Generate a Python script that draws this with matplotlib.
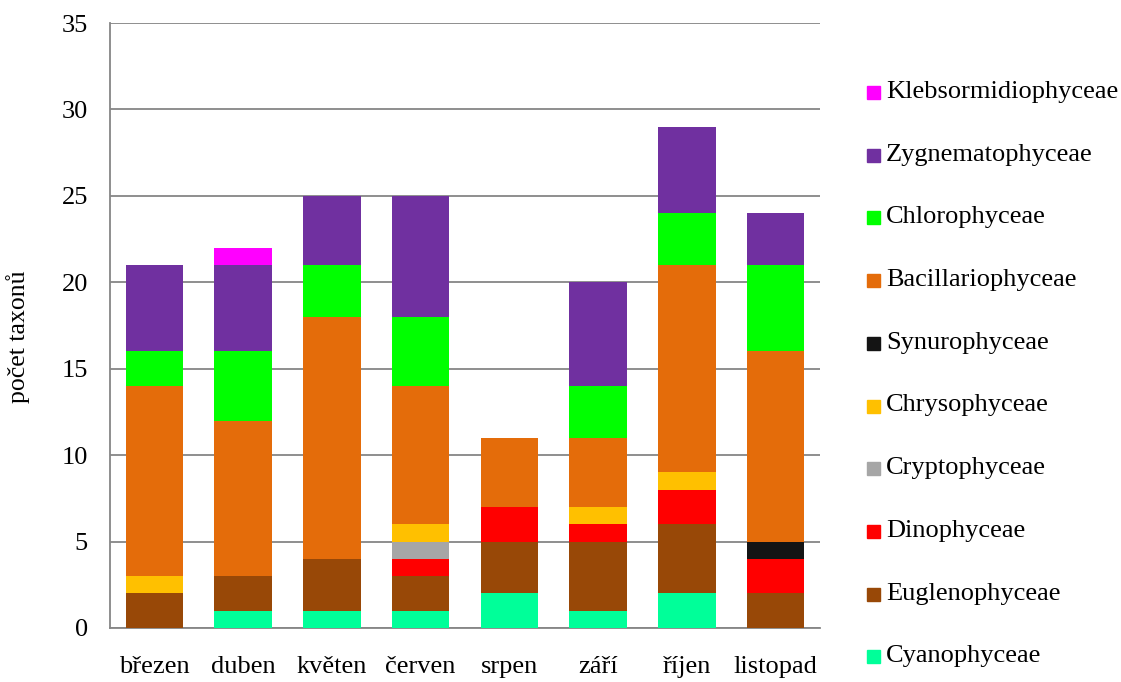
import matplotlib
matplotlib.use("Agg")
import matplotlib.pyplot as plt
import numpy as np
from matplotlib.patches import Rectangle

plt.rcParams["font.family"] = ["Liberation Serif", "DejaVu Serif"]

months = ["březen", "duben", "květen", "červen", "srpen", "září", "říjen", "listopad"]

cyanophyceae = [0, 1, 1, 1, 2, 1, 2, 0]
euglenophyceae = [2, 2, 3, 2, 3, 4, 4, 2]
dinophyceae = [0, 0, 0, 1, 2, 1, 2, 2]
cryptophyceae = [0, 0, 0, 1, 0, 0, 0, 0]
chrysophyceae = [1, 0, 0, 1, 0, 1, 1, 0]
synurophyceae = [0, 0, 0, 0, 0, 0, 0, 1]
bacillariophyceae = [11, 9, 14, 8, 4, 4, 12, 11]
chlorophyceae = [2, 4, 3, 4, 0, 3, 3, 5]
zygnematophyceae = [5, 5, 4, 7, 0, 6, 5, 3]
klebsormidiophyceae = [0, 1, 0, 0, 0, 0, 0, 0]

series = [
    ("Cyanophyceae", cyanophyceae, "#00FF99"),
    ("Euglenophyceae", euglenophyceae, "#984807"),
    ("Dinophyceae", dinophyceae, "#FF0000"),
    ("Cryptophyceae", cryptophyceae, "#A6A6A6"),
    ("Chrysophyceae", chrysophyceae, "#FFC000"),
    ("Synurophyceae", synurophyceae, "#141414"),
    ("Bacillariophyceae", bacillariophyceae, "#E46C0A"),
    ("Chlorophyceae", chlorophyceae, "#00FF00"),
    ("Zygnematophyceae", zygnematophyceae, "#7030A0"),
    ("Klebsormidiophyceae", klebsormidiophyceae, "#FF00FF"),
]

W, H = 1121, 682
fig = plt.figure(figsize=(W / 100, H / 100), dpi=100)
ax = fig.add_axes([110 / W, 1 - 628 / H, 710 / W, 605 / H])

x = np.arange(len(months))
bottom = np.zeros(len(months))
for name, values, color in series:
    ax.bar(x, values, 0.65, bottom=bottom, color=color, linewidth=0, zorder=3)
    bottom += np.array(values)

ax.set_xlim(-0.5, len(months) - 0.5)
ax.set_ylim(0, 35)
ax.set_yticks(range(0, 36, 5))
ax.set_xticks(x)
ax.set_xticklabels(months, fontsize=19)
ax.tick_params(axis="y", length=0, pad=16, labelsize=19)
ax.tick_params(axis="x", length=0, pad=20)
ax.yaxis.grid(True, color="#868686", linewidth=1.3, zorder=0)
for side in ("top", "right"):
    ax.spines[side].set_visible(False)
for side in ("left", "bottom"):
    ax.spines[side].set_color("#868686")
    ax.spines[side].set_linewidth(1.3)
ax.set_ylabel("počet taxonů", fontsize=18.5)
ax.yaxis.set_label_coords(-0.112, 0.481)

# legend drawn by hand, top entry first
for i, (name, values, color) in enumerate(reversed(series)):
    yc = 92 + i * 62.7
    fig.patches.append(Rectangle((867 / W, 1 - (yc + 7) / H), 13 / W, 13 / H,
                                 transform=fig.transFigure, color=color))
    fig.text(886 / W, 1 - yc / H, name, fontsize=19, va="center", ha="left")

fig.savefig("out.png", dpi=100)
